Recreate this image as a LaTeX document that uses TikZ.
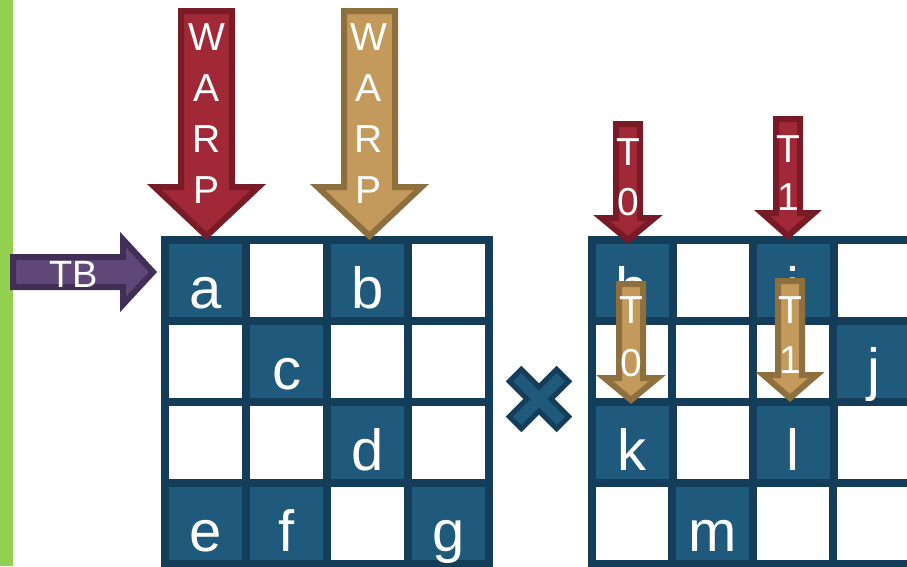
\documentclass[tikz,border=0pt]{standalone}
\usepackage{fontspec}
\setmainfont{Liberation Sans}
\definecolor{cellblue}{HTML}{1F5A7C}
\definecolor{cellline}{HTML}{133D58}
\definecolor{warpred}{HTML}{A12837}
\definecolor{warpredline}{HTML}{791B26}
\definecolor{warptan}{HTML}{C39A5B}
\definecolor{warptanline}{HTML}{8E6F3E}
\definecolor{tbpurple}{HTML}{5F4878}
\definecolor{tbpurpleline}{HTML}{412F57}
\definecolor{bargreen}{HTML}{92D050}

% down block arrow: style, mid x, top, head start, tip, shaft half, head half
\newcommand{\downblock}[7]{%
  \draw[#1] ({#2-#6},#3) -- ({#2+#6},#3) -- ({#2+#6},#4) -- ({#2+#7},#4)
    -- (#2,#5) -- ({#2-#7},#4) -- ({#2-#6},#4) -- cycle;}

\begin{document}
\begin{tikzpicture}[x=1pt,y=-1pt,
  cell/.style={draw=cellline,line width=8pt,minimum size=81pt,inner sep=0pt,
    text height=56pt,text depth=0pt,text=white,font=\fontsize{58}{60}\selectfont},
  redarrow/.style={fill=warpred,draw=warpredline,line width=6pt,line join=miter},
  tanarrow/.style={fill=warptan,draw=warptanline,line width=6pt,line join=miter},
  arrowtxt/.style={text=white,anchor=base,inner sep=0pt,font=\fontsize{39}{46}\selectfont}]
  \useasboundingbox (0,0) rectangle (907,566);
  \fill[bargreen] (0,0) rectangle (13,566);

  % left matrix
  \foreach \c in {0,...,3}
    \foreach \r in {0,...,3}
      \node[cell,fill=white] (L\c\r) at ({205.5+81*\c},{280.5+81*\r}) {};
  \foreach \c/\r/\lab in {0/0/a,2/0/b,1/1/c,2/2/d,0/3/e,1/3/f,3/3/g}
    \node[cell,fill=cellblue] (L\lab) at ({205.5+81*\c},{280.5+81*\r}) {\lab};

  % right matrix
  \foreach \c in {0,...,3}
    \foreach \r in {0,...,3}
      \node[cell,fill=white] (R\c\r) at ({632+80.5*\c},{280.5+81*\r}) {};
  \foreach \c/\r/\lab in {0/0/h,2/0/i,3/1/j,0/2/k,2/2/l,1/3/m}
    \node[cell,fill=cellblue] (R\lab) at ({632+80.5*\c},{280.5+81*\r}) {\lab};

  % times sign
  \draw[fill=cellblue,draw=cellline,line width=5pt,shift={(539,399)},rotate=45]
    (8.5,33.5) -- (-8.5,33.5) -- (-8.5,8.5) -- (-33.5,8.5) -- (-33.5,-8.5)
    -- (-8.5,-8.5) -- (-8.5,-33.5) -- (8.5,-33.5) -- (8.5,-8.5) -- (33.5,-8.5)
    -- (33.5,8.5) -- (8.5,8.5) -- cycle;

  % thread block arrow
  \draw[fill=tbpurple,draw=tbpurpleline,line width=6pt,line join=miter]
    (13,257) -- (123,257) -- (123,239.5) -- (153,272) -- (123,304.5)
    -- (123,287) -- (13,287) -- cycle;
  \node[arrowtxt,font=\fontsize{38}{46}\selectfont] (tb) at (74,287) {TB};

  % warp arrows
  \downblock{redarrow}{206.5}{11}{187}{236}{25.5}{52}
  \downblock{tanarrow}{369.5}{11}{187}{236}{25.5}{52}
  \foreach \ch [count=\i] in {W,A,R,P} {
    \node[arrowtxt] (rw\i) at (207,{50+51*(\i-1)}) {\ch};
    \node[arrowtxt] (tw\i) at (369,{50+51*(\i-1)}) {\ch};
  }

  % thread arrows
  \downblock{redarrow}{628}{124}{218}{240}{12}{26.5}
  \downblock{redarrow}{788}{119}{213}{236}{12}{26}
  \downblock{tanarrow}{631}{284}{378}{400}{12}{26.5}
  \downblock{tanarrow}{790}{281}{375}{398}{12}{26.5}
  \node[arrowtxt] (rt0a) at (628,165) {T};
  \node[arrowtxt] (rt0b) at (628,215) {0};
  \node[arrowtxt] (rt1a) at (788,162) {T};
  \node[arrowtxt] (rt1b) at (788,210) {1};
  \node[arrowtxt] (tt0a) at (631,323) {T};
  \node[arrowtxt] (tt0b) at (631,376) {0};
  \node[arrowtxt] (tt1a) at (790,323) {T};
  \node[arrowtxt] (tt1b) at (790,373) {1};
\end{tikzpicture}
\end{document}
